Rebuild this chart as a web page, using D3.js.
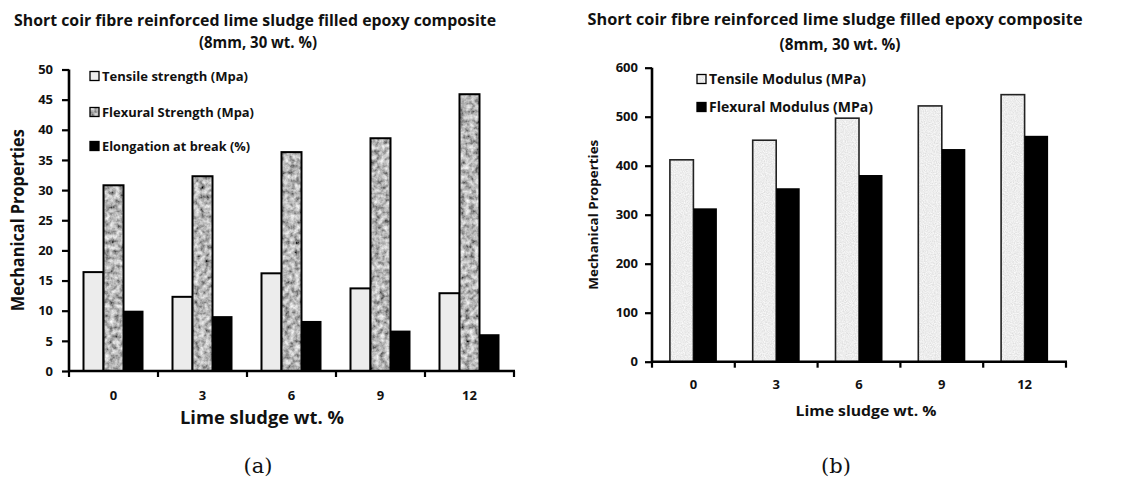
<!DOCTYPE html>
<html>
<head>
<meta charset="utf-8">
<script src="https://cdn.jsdelivr.net/npm/d3@7"></script>
<style>
  html, body { margin: 0; padding: 0; background: #fff; }
  svg { display: block; }
  text { font-family: "Open Sans", "Noto Sans", sans-serif; font-weight: 700; fill: #111; }
  .caption { font-family: "DejaVu Serif", "Liberation Serif", serif; font-weight: normal; }
</style>
</head>
<body>
<svg id="fig" width="1125" height="483"></svg>
<script>
// Lime sludge content (wt. %) on the x axis of both panels
const limeSludge = ["0", "3", "6", "9", "12"];

// Panel (a): strength and elongation
const tensileStrength   = [16.4, 12.3, 16.2, 13.7, 12.9];
const flexuralStrength  = [30.8, 32.3, 36.3, 38.6, 45.9];
const elongationAtBreak = [10.0, 9.1, 8.3, 6.7, 6.1];
const seriesNamesA = ["Tensile strength (Mpa)", "Flexural Strength (Mpa)", "Elongation at break (%)"];
const yTicksA = [0, 5, 10, 15, 20, 25, 30, 35, 40, 45, 50];

// Panel (b): moduli
const tensileModulus  = [412, 452, 497, 522, 545];
const flexuralModulus = [313, 354, 381, 434, 461];
const seriesNamesB = ["Tensile Modulus (MPa)", "Flexural Modulus (MPa)"];
const yTicksB = [0, 100, 200, 300, 400, 500, 600];

const titleLine1A = "Short coir fibre reinforced  lime sludge filled epoxy composite";
const titleLine1B = "Short coir fibre reinforced lime sludge filled epoxy composite";
const titleLine2 = "(8mm, 30 wt. %)";
const xTitle = "Lime sludge wt. %";
const yTitle = "Mechanical Properties";

const svg = d3.select("#fig");
const defs = svg.append("defs");

// Noise-driven grey fill: grey = offset - gain * noiseAlpha, clipped to the shape
function noiseFilter(id, freq, octaves, seed, offset, gain) {
  const f = defs.append("filter").attr("id", id)
    .attr("x", 0).attr("y", 0).attr("width", 1).attr("height", 1)
    .attr("filterUnits", "objectBoundingBox");
  f.append("feTurbulence").attr("type", "fractalNoise")
    .attr("baseFrequency", freq).attr("numOctaves", octaves).attr("seed", seed).attr("result", "noise");
  const row = `0 0 0 ${-gain} ${offset}`;
  f.append("feColorMatrix").attr("in", "noise").attr("type", "matrix")
    .attr("values", `${row}  ${row}  ${row}  0 0 0 0 1`)
    .attr("result", "gray");
  f.append("feComposite").attr("in", "gray").attr("in2", "SourceAlpha").attr("operator", "in");
}
// mottled granite for flexural strength, fine speckle for the light tensile bars
noiseFilter("granite", 0.2, 3, 7, 1.08, 1.2);
noiseFilter("speckle", 0.9, 2, 3, 1.02, 0.35);

function fitText(sel, len) {
  return sel.attr("textLength", len).attr("lengthAdjust", "spacingAndGlyphs");
}

function drawPanel(cfg) {
  const g = svg.append("g");
  const x = d3.scaleBand().domain(limeSludge).range(cfg.xRange).padding(0);
  const y = d3.scaleLinear().domain(cfg.yDomain).range(cfg.yRange);
  const inner = d3.scaleBand().domain(d3.range(cfg.series.length))
    .range([(x.bandwidth() - cfg.groupWidth) / 2, (x.bandwidth() + cfg.groupWidth) / 2]);

  // bars
  cfg.series.forEach((vals, si) => {
    const st = cfg.styles[si];
    const bars = g.append("g");
    bars.selectAll("rect.fill").data(vals).join("rect")
      .attr("x", (d, i) => x(limeSludge[i]) + inner(si))
      .attr("y", d => y(d))
      .attr("width", inner.bandwidth())
      .attr("height", d => y(0) - y(d))
      .attr("fill", st.fill)
      .attr("filter", st.filter || null);
    if (st.stroke) {
      bars.selectAll("rect.edge").data(vals).join("rect")
        .attr("x", (d, i) => x(limeSludge[i]) + inner(si))
        .attr("y", d => y(d))
        .attr("width", inner.bandwidth())
        .attr("height", d => y(0) - y(d))
        .attr("fill", "none")
        .attr("stroke", st.stroke)
        .attr("stroke-width", st.strokeWidth);
    }
  });

  // y axis
  const yAxis = g.append("g").attr("transform", `translate(${cfg.xRange[0]},0)`)
    .call(d3.axisLeft(y).tickValues(cfg.yTicks).tickSize(7).tickPadding(cfg.tickPadY));
  yAxis.select(".domain").attr("stroke", "#000").attr("stroke-width", 2.6).attr("d",
    `M0,${cfg.yRange[1]}V${cfg.yRange[0]}`);
  yAxis.selectAll(".tick line").attr("stroke", "#000").attr("stroke-width", 2.2);
  yAxis.selectAll(".tick text").style("font-size", cfg.yTickFont + "px")
    .style("font-family", "'Open Sans', sans-serif").style("font-weight", "700").attr("fill", "#111");

  // x axis: labels centred on bands, ticks at band boundaries
  const xAxis = g.append("g").attr("transform", `translate(0,${y(0)})`)
    .call(d3.axisBottom(x).tickSize(0).tickPadding(cfg.tickPadX));
  xAxis.select(".domain").remove();
  xAxis.selectAll(".tick text").style("font-size", cfg.xTickFont + "px")
    .style("font-family", "'Open Sans', sans-serif").style("font-weight", "700").attr("fill", "#111");
  const edges = limeSludge.map(d => x(d)).concat([x.range()[1]]);
  xAxis.append("line").attr("x1", x.range()[0] - 1).attr("x2", x.range()[1] + 1)
    .attr("stroke", "#000").attr("stroke-width", 2.6);
  xAxis.selectAll("line.edge").data(edges).join("line")
    .attr("x1", d => d).attr("x2", d => d).attr("y1", 0).attr("y2", 6)
    .attr("stroke", "#000").attr("stroke-width", 2.2);

  // titles
  fitText(g.append("text").attr("x", cfg.titleX).attr("y", cfg.titleY1).attr("text-anchor", "middle")
    .style("font-size", cfg.titleFont + "px"), cfg.titleLen)
    .text(cfg.title1);
  fitText(g.append("text").attr("x", cfg.titleX2).attr("y", cfg.titleY2).attr("text-anchor", "middle")
    .style("font-size", cfg.titleFont + "px"), cfg.title2Len).text(titleLine2);

  fitText(g.append("text").attr("x", cfg.xTitleX).attr("y", cfg.xTitleY).attr("text-anchor", "middle")
    .style("font-size", cfg.xTitleFont + "px"), cfg.xTitleLen).text(xTitle);

  fitText(g.append("text").attr("transform", `translate(${cfg.yTitleX},${(cfg.yRange[0] + cfg.yRange[1]) / 2}) rotate(-90)`)
    .attr("text-anchor", "middle").attr("dominant-baseline", "central")
    .style("font-size", cfg.yTitleFont + "px"), cfg.yTitleLen).text(yTitle);

  // legend
  cfg.legendNames.forEach((name, i) => {
    const st = cfg.styles[i];
    const cy = cfg.legendY[i];
    g.append("rect").attr("x", cfg.legendX).attr("y", cy - 4.5).attr("width", 9).attr("height", 9)
      .attr("fill", st.fill).attr("filter", st.filter || null);
    g.append("rect").attr("x", cfg.legendX).attr("y", cy - 4.5).attr("width", 9).attr("height", 9)
      .attr("fill", "none").attr("stroke", "#000").attr("stroke-width", 1.3);
    fitText(g.append("text").attr("x", cfg.legendX + 12).attr("y", cy).attr("dominant-baseline", "central")
      .style("font-size", cfg.legendFont + "px"), cfg.legendLen[i])
      .text(name);
  });

  // caption
  g.append("text").attr("class", "caption").attr("x", cfg.capX).attr("y", 473)
    .attr("text-anchor", "middle").style("font-size", "21px").text(cfg.caption);
}

drawPanel({
  series: [tensileStrength, flexuralStrength, elongationAtBreak],
  styles: [
    { fill: "#ececec", stroke: "#000", strokeWidth: 2 },
    { fill: "#999", filter: "url(#granite)", stroke: "#000", strokeWidth: 2 },
    { fill: "#000" }
  ],
  xRange: [69, 514], yDomain: [0, 50], yRange: [371, 69.5],
  groupWidth: 60, yTicks: yTicksA,
  tickPadY: 9, yTickFont: 13, tickPadX: 20, xTickFont: 13,
  title1: titleLine1A, titleX: 255, titleLen: 482, titleY1: 26, titleX2: 258, title2Len: 118, titleY2: 48, titleFont: 16,
  xTitleX: 262, xTitleY: 424, xTitleLen: 164, xTitleFont: 18,
  yTitleX: 17, yTitleLen: 182, yTitleFont: 17,
  legendNames: seriesNamesA, legendX: 90, legendY: [76, 112, 146], legendLen: [146, 152, 148], legendFont: 13,
  capX: 258, caption: "(a)"
});

drawPanel({
  series: [tensileModulus, flexuralModulus],
  styles: [
    { fill: "#e6e6e6", filter: "url(#speckle)", stroke: "#222", strokeWidth: 1.6 },
    { fill: "#000" }
  ],
  xRange: [652, 1066], yDomain: [0, 600], yRange: [361.7, 67.7],
  groupWidth: 47, yTicks: yTicksB,
  tickPadY: 7, yTickFont: 13, tickPadX: 18, xTickFont: 13,
  title1: titleLine1B, titleX: 835, titleLen: 495, titleY1: 25, titleX2: 840, title2Len: 121, titleY2: 50, titleFont: 16,
  xTitleX: 866, xTitleY: 416, xTitleLen: 141, xTitleFont: 15,
  yTitleX: 593, yTitleLen: 150, yTitleFont: 13,
  legendNames: seriesNamesB, legendX: 697, legendY: [79, 107], legendLen: [157, 164], legendFont: 13.5,
  capX: 836, caption: "(b)"
});
</script>
</body>
</html>
